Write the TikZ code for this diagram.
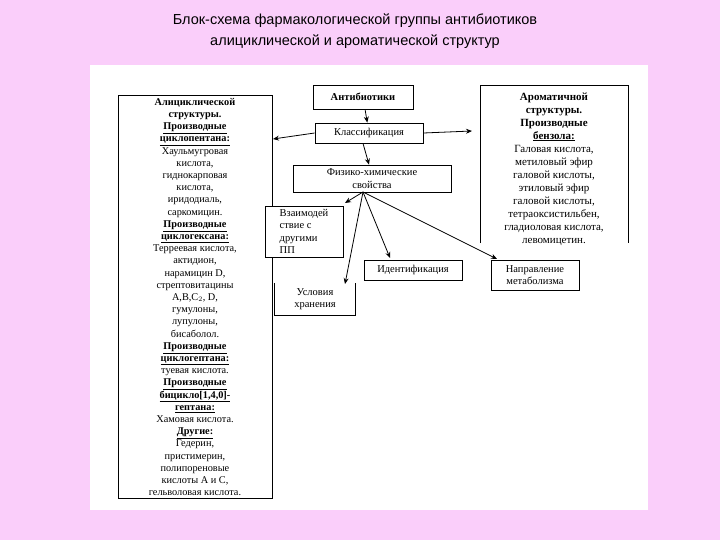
\documentclass[tikz,border=0pt]{standalone}
\usepackage{fontspec}
\setmainfont{Liberation Serif}
\newfontfamily\arialf{Liberation Sans}
\usetikzlibrary{arrows.meta}
\newcommand{\tightls}{\lineskiplimit=-6pt\relax}
\begin{document}
\begin{tikzpicture}[x=1pt,y=-1pt,
  bx/.style={draw,thick,fill=white,align=center,inner sep=2pt,font=\fontsize{10.5}{12.5}\selectfont},
  ar/.style={thick,-{Stealth[length=6pt,width=5pt]}}]
\fill[fill={rgb,255:red,250;green,206;blue,250}] (0,0) rectangle (720,540);
\useasboundingbox (0,0) rectangle (720,540);
\fill[white] (90,65) rectangle (648,510);
\node[font=\arialf\fontsize{14.5}{21}\selectfont,align=center] (title) at (355,31)
  {Блок-схема фармакологической группы антибиотиков\\алициклической и ароматической структур};
% left box
\draw[thick] (118,95) rectangle (272,498);
\node[align=center,font=\fontsize{10.3}{12.2}\selectfont\tightls] (left) at (195,297) {%
\textbf{Алициклической}\\\textbf{структуры.}\\\textbf{\underline{Производные}}\\\textbf{\underline{циклопентана:}}\\
Хаульмугровая\\кислота,\\гиднокарповая\\кислота,\\иридодиаль,\\саркомицин.\\
\textbf{\underline{Производные}}\\\textbf{\underline{циклогексана:}}\\Терреевая кислота,\\актидион,\\нарамицин D,\\стрептовитацины\\A,B,C$_2$, D,\\гумулоны,\\лупулоны,\\бисаболол.\\
\textbf{\underline{Производные}}\\\textbf{\underline{циклогептана:}}\\туевая кислота.\\
\textbf{\underline{Производные}}\\\textbf{\underline{бицикло[1,4,0]-}}\\\textbf{\underline{гептана:}}\\Хамовая кислота.\\
\textbf{\underline{Другие:}}\\Гедерин,\\пристимерин,\\полипореновые\\кислоты A и C,\\гельволовая кислота.};
\coordinate (leftin) at (273,139);
% right box
\draw[thick] (480,243) -- (480,85) -- (628,85) -- (628,243);
\node[align=center,font=\fontsize{11}{13}\selectfont\tightls,anchor=north] (right) at (554,89) {%
\textbf{Ароматичной}\\\textbf{структуры.}\\\textbf{Производные}\\\textbf{\underline{бензола:}}\\
Галовая кислота,\\метиловый эфир\\галовой кислоты,\\этиловый эфир\\галовой кислоты,\\тетраоксистильбен,\\гладиоловая кислота,\\левомицетин.};
\coordinate (rightin) at (472,131);
\node[bx,minimum width=100pt,minimum height=24pt] (ab) at (363,97) {\textbf{Антибиотики}};
\node[bx,minimum width=108pt,minimum height=20pt] (cl) at (369,133) {Классификация};
\node[bx,minimum width=158pt,minimum height=27pt] (fz) at (372,178.5) {Физико-химические\\свойства};
\node[bx,minimum width=78pt,minimum height=51pt,align=left] (vz) at (304,231.5) {Взаимодей\\ствие с\\другими\\ПП};
\node[align=center,font=\fontsize{10.5}{12.5}\selectfont,minimum width=80pt,minimum height=32pt] (us) at (315,299) {Условия\\хранения};
\draw[thick] (us.north west) -- (us.south west) -- (us.south east) -- (us.north east);
\node[bx,minimum width=98pt,minimum height=20pt] (id) at (413,270) {Идентификация};
\node[bx,minimum width=88pt,minimum height=30pt] (np) at (535,275) {Направление\\метаболизма};
\coordinate (fzb) at (363,192);
\coordinate (usin) at (345,284);
\draw[ar] (ab) -- (cl);
\draw[ar] (cl.west) -- (leftin);
\draw[ar] (cl.east) -- (rightin);
\draw[ar] ([xshift=-6pt]cl.south) -- ([xshift=-3pt]fz.north);
\draw[ar] (fzb) -- (345,203);
\draw[ar] (fzb) -- (usin);
\draw[ar] (fzb) -- (390,258);
\draw[ar] (fzb) -- (497,259);
\end{tikzpicture}
\end{document}
